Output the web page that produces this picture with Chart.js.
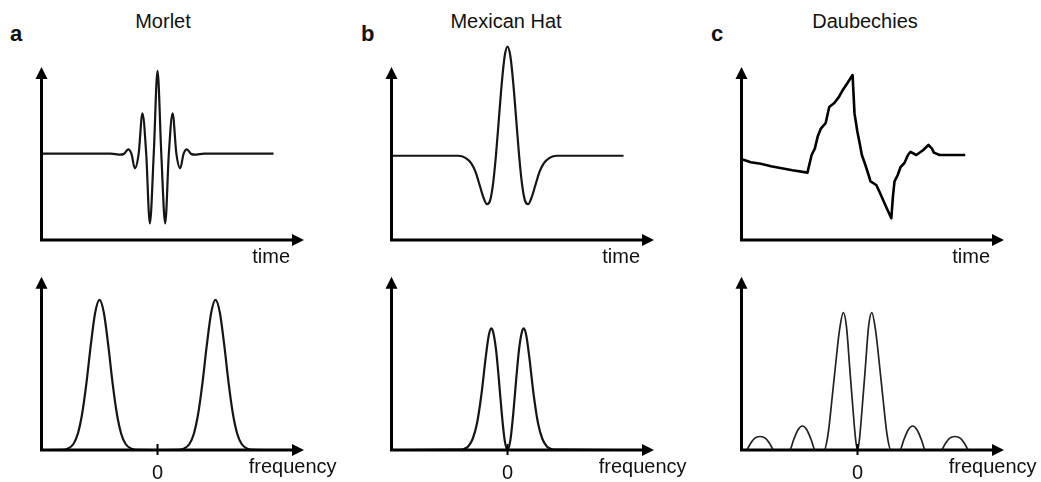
<!DOCTYPE html>
<html>
<head>
<meta charset="utf-8">
<script src="https://cdn.jsdelivr.net/npm/chart.js@4.4.1/dist/chart.umd.min.js"></script>
<style>
    body { margin: 0; background: #fff; }
    #lienzo { position: relative; width: 1041px; height: 482px; overflow: hidden; font-family: "Liberation Sans", Arial, sans-serif; color: #111; }
    canvas { position: absolute; }
    .letra { position: absolute; font-weight: bold; font-size: 22px; line-height: 22px; top: 23px; }
    .titulo { position: absolute; font-size: 20px; line-height: 20px; width: 200px; text-align: center; top: 11px; }
</style>
</head>
<body>
<div id="lienzo">
    <div class="letra" style="left:10px">a</div>
    <div class="letra" style="left:361px">b</div>
    <div class="letra" style="left:711px">c</div>
    <div class="titulo" style="left:63px">Morlet</div>
    <div class="titulo" style="left:406px">Mexican Hat</div>
    <div class="titulo" style="left:765px">Daubechies</div>

    <canvas id="morletTiempo" width="350" height="272" style="left:0;top:0"></canvas>
    <canvas id="sombreroTiempo" width="350" height="272" style="left:350px;top:0"></canvas>
    <canvas id="daubTiempo" width="341" height="272" style="left:700px;top:0"></canvas>
    <canvas id="morletFrec" width="350" height="232" style="left:0;top:250px"></canvas>
    <canvas id="sombreroFrec" width="350" height="232" style="left:350px;top:250px"></canvas>
    <canvas id="daubFrec" width="341" height="232" style="left:700px;top:250px"></canvas>
</div>

<script>
/* ----- Datos ----- */
// Morlet, dominio del tiempo
const morletT = [-4, -1.62, -1.45, -1.3, -1.15, -1.01, -0.9, -0.78, -0.65, -0.52, -0.39, -0.265, -0.13,
    0, 0.13, 0.265, 0.39, 0.52, 0.65, 0.78, 0.9, 1.01, 1.15, 1.3, 1.45, 1.62, 4];
const morletY = [0, 0, -0.004, -0.012, 0, 0.053, 0, -0.176, 0, 0.487, 0, -0.84, 0,
    1, 0, -0.84, 0, 0.487, 0, -0.176, 0, 0.053, 0, -0.012, -0.004, 0, 0];

// Sombrero mexicano, tiempo
const sombreroT = [-4, -1.7, -1.45, -1.25, -1.1, -0.95, -0.82, -0.71, -0.6, -0.5, -0.4, -0.3, -0.2, -0.1,
    0, 0.1, 0.2, 0.3, 0.4, 0.5, 0.6, 0.71, 0.82, 0.95, 1.1, 1.25, 1.45, 1.7, 4];
const sombreroY = [0, 0, -0.02, -0.07, -0.15, -0.28, -0.39, -0.445, -0.41, -0.26, 0, 0.33, 0.66, 0.91,
    1, 0.91, 0.66, 0.33, 0, -0.26, -0.41, -0.445, -0.39, -0.28, -0.15, -0.07, -0.02, 0, 0];

// Daubechies, tiempo (trazo quebrado)
const daubT = [0, 0.06, 0.29, 0.6, 0.92, 1.59, 2.06, 2.19, 2.29, 2.38, 2.48, 2.63, 2.74, 2.9, 3.05,
    3.16, 3.31, 3.47, 3.53, 3.62, 3.69, 3.76, 3.87, 3.97, 4.03, 4.21, 4.31, 4.42, 4.52, 4.68,
    4.73, 4.78, 4.88, 4.97, 5.09, 5.2, 5.28, 5.46, 5.67, 5.84, 5.95, 6.01, 6.19, 6.99];
const daubY = [-0.06, -0.06, -0.09, -0.11, -0.14, -0.19, -0.22, 0, 0.08, 0.23, 0.33, 0.4, 0.6, 0.65, 0.73,
    0.81, 0.9, 1.0, 0.52, 0.29, 0.15, 0, -0.125, -0.25, -0.33, -0.375, -0.46, -0.56, -0.65, -0.79,
    -0.52, -0.33, -0.25, -0.15, -0.1, 0, 0.04, 0, 0.06, 0.125, 0.08, 0.03, 0, 0];

// Morlet, frecuencia
const morletF = [-4, -3.3, -3.1, -2.9, -2.75, -2.6, -2.45, -2.3, -2.15, -2, -1.85, -1.7, -1.55, -1.4, -1.25, -1.1, -0.9, -0.7,
    0, 0.7, 0.9, 1.1, 1.25, 1.4, 1.55, 1.7, 1.85, 2, 2.15, 2.3, 2.45, 2.6, 2.75, 2.9, 3.1, 3.3, 4];
const morletA = [0, 0.001, 0.008, 0.04, 0.107, 0.24, 0.448, 0.7, 0.915, 1, 0.915, 0.7, 0.448, 0.24, 0.107, 0.04, 0.008, 0.001,
    0, 0.001, 0.008, 0.04, 0.107, 0.24, 0.448, 0.7, 0.915, 1, 0.915, 0.7, 0.448, 0.24, 0.107, 0.04, 0.008, 0.001, 0];

// Sombrero mexicano, frecuencia
const sombreroF = [-4, -1.7, -1.5, -1.35, -1.2, -1.05, -0.9, -0.75, -0.65, -0.56, -0.5, -0.4, -0.3, -0.2, -0.1,
    0, 0.1, 0.2, 0.3, 0.4, 0.5, 0.56, 0.65, 0.75, 0.9, 1.05, 1.2, 1.35, 1.5, 1.7, 4];
const sombreroA = [0, 0.002, 0.007, 0.025, 0.075, 0.18, 0.37, 0.62, 0.76, 0.81, 0.79, 0.675, 0.474, 0.247, 0.068,
    0, 0.068, 0.247, 0.474, 0.675, 0.79, 0.81, 0.76, 0.62, 0.37, 0.18, 0.075, 0.025, 0.007, 0.002, 0];

// Daubechies, frecuencia
const daubF = [-4, -3.84, -3.7, -3.55, -3.36, -3.17, -3.02, -2.88,
    -2.34, -2.2, -2.05, -1.9, -1.75, -1.6, -1.46,
    -1.15, -1.02, -0.88, -0.75, -0.62, -0.49, -0.38, -0.27, -0.16, -0.06,
    0, 0.06, 0.16, 0.27, 0.38, 0.49, 0.62, 0.75, 0.88, 1.02, 1.15,
    1.46, 1.6, 1.75, 1.9, 2.05, 2.2, 2.34,
    2.88, 3.02, 3.17, 3.36, 3.55, 3.7, 3.84, 4];
const daubA = [0, 0, 0.04, 0.078, 0.09, 0.078, 0.04, 0,
    0, 0.07, 0.135, 0.16, 0.135, 0.07, 0,
    0, 0.1, 0.34, 0.58, 0.8, 0.915, 0.82, 0.55, 0.28, 0.06,
    0, 0.06, 0.28, 0.55, 0.82, 0.915, 0.8, 0.58, 0.34, 0.1, 0,
    0, 0.07, 0.135, 0.16, 0.135, 0.07, 0,
    0, 0.04, 0.078, 0.09, 0.078, 0.04, 0, 0];

/* ----- Ejes con flechas ----- */
const ejes = {
    id: "ejes",
    afterDatasetsDraw(chart, args, op) {
        const { ctx, chartArea: a } = chart;
        const x0 = a.left, y0 = a.bottom;
        ctx.save();
        ctx.strokeStyle = "#000";
        ctx.fillStyle = "#000";
        ctx.lineWidth = 3;
        ctx.beginPath();
        ctx.moveTo(x0, y0 + 1.5);
        ctx.lineTo(x0, a.top + 10);
        ctx.moveTo(x0, y0);
        ctx.lineTo(a.right - 10, y0);
        ctx.stroke();

        ctx.beginPath();
        ctx.moveTo(x0, a.top);
        ctx.lineTo(x0 - 6, a.top + 12);
        ctx.lineTo(x0 + 6, a.top + 12);
        ctx.closePath();
        ctx.fill();
        ctx.beginPath();
        ctx.moveTo(a.right, y0);
        ctx.lineTo(a.right - 12, y0 - 6);
        ctx.lineTo(a.right - 12, y0 + 6);
        ctx.closePath();
        ctx.fill();

        ctx.font = '20px "Liberation Sans", Arial, sans-serif';
        ctx.fillStyle = "#111";
        ctx.textAlign = "right";
        ctx.textBaseline = "alphabetic";
        ctx.fillText(op.texto, a.right + op.dx, y0 + op.dy);

        if (op.cero) {
            const xc = chart.scales.x.getPixelForValue(0);
            ctx.lineWidth = 2;
            ctx.beginPath();
            ctx.moveTo(xc, y0 - 6);
            ctx.lineTo(xc, y0 + 5);
            ctx.stroke();
            ctx.textAlign = "center";
            ctx.fillText("0", xc, y0 + 29);
        }
        ctx.restore();
    }
};

function panel(id, xs, ys, esc, estilo, eje) {
    const ancho = document.getElementById(id).width;
    const arriba = eje.cero ? 26.7 : 67;
    return new Chart(document.getElementById(id), {
        type: "line",
        data: {
            datasets: [{
                data: xs.map((x, i) => ({ x: x, y: ys[i] })),
                borderColor: estilo.color,
                borderWidth: estilo.grosor,
                pointRadius: 0,
                fill: false,
                clip: false,
                borderJoinStyle: "round",
                cubicInterpolationMode: estilo.recto ? "default" : "monotone",
                tension: 0
            }]
        },
        options: {
            responsive: false,
            animation: false,
            events: [],
            layout: { padding: { left: 41.5, right: ancho - 304, top: arriba, bottom: 32 } },
            scales: {
                x: { type: "linear", display: false, min: esc.xmin, max: esc.xmax },
                y: { type: "linear", display: false, min: esc.ymin, max: esc.ymax }
            },
            plugins: {
                legend: { display: false },
                tooltip: { enabled: false },
                ejes: eje
            }
        },
        plugins: [ejes]
    });
}

const tiempo = { texto: "time", dx: -14, dy: 23.3 };
const frec = { texto: "frequency", dx: 32.5, dy: 22.7, cero: true };

panel("morletTiempo", morletT, morletY, { xmin: -4, xmax: 5.05, ymin: -1.04, ymax: 1.045 },
    { color: "#151515", grosor: 2.2 }, tiempo);
panel("sombreroTiempo", sombreroT, sombreroY, { xmin: -4, xmax: 5.05, ymin: -0.773, ymax: 0.814 },
    { color: "#151515", grosor: 2.2 }, tiempo);
panel("daubTiempo", daubT, daubY, { xmin: 0, xmax: 8.2, ymin: -1.0625, ymax: 1.1 },
    { color: "#000", grosor: 2.6, recto: true }, tiempo);
panel("morletFrec", morletF, morletA, { xmin: -4, xmax: 5.05, ymin: 0, ymax: 1.155 },
    { color: "#151515", grosor: 2.2 }, frec);
panel("sombreroFrec", sombreroF, sombreroA, { xmin: -4, xmax: 5.05, ymin: 0, ymax: 1.155 },
    { color: "#151515", grosor: 2.2 }, frec);
panel("daubFrec", daubF, daubA, { xmin: -4, xmax: 5.05, ymin: 0, ymax: 1.155 },
    { color: "#222", grosor: 1.7 }, frec);
</script>
</body>
</html>
